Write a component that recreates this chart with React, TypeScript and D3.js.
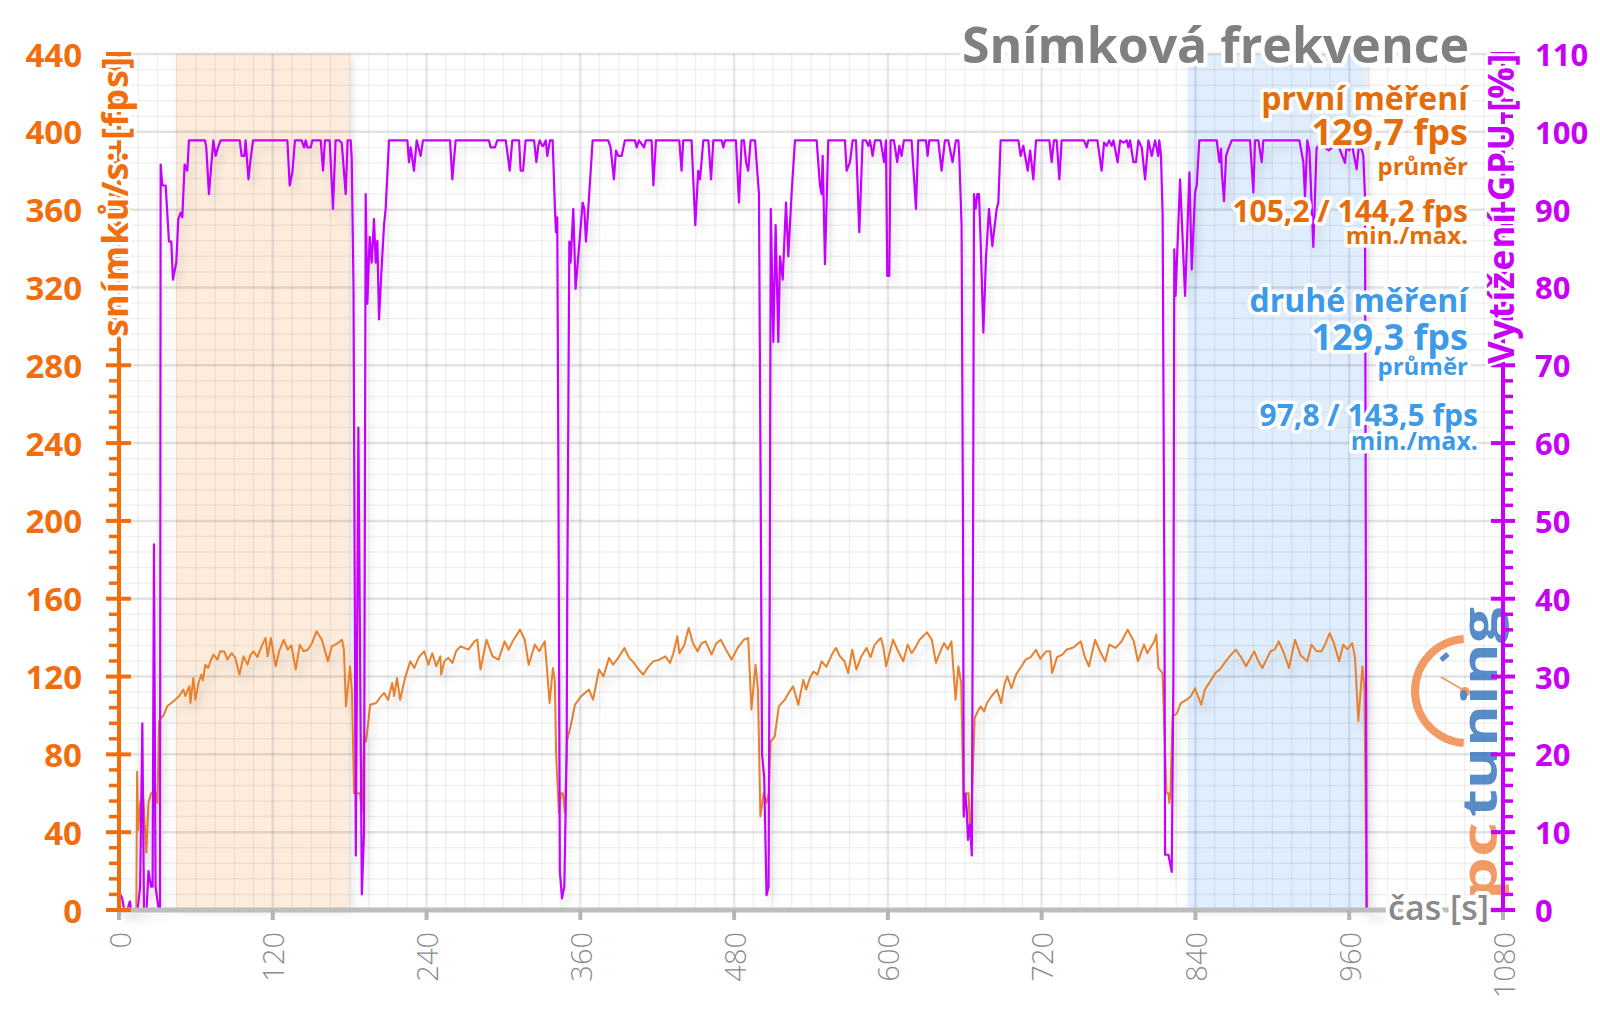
import { useEffect, useRef } from 'react';
import * as d3 from 'd3';

// time axis [s]
const timeTicks = [0, 120, 240, 360, 480, 600, 720, 840, 960, 1080];
// left axis [fps]
const fpsTicks = [0, 40, 80, 120, 160, 200, 240, 280, 320, 360, 400, 440];
// right axis [%]
const gpuTicks = [0, 10, 20, 30, 40, 50, 60, 70, 80, 90, 100, 110];

const firstRun = [44.5, 180];
const secondRun = [834, 972];

const chartTitle = 'Snímková frekvence';
const fpsAxisTitle = 'snímků/s: [fps]';
const gpuAxisTitle = 'Vytížení GPU [%]';
const timeAxisTitle = 'čas [s]';
const firstStats = ['první měření', '129,7 fps', 'průměr', '105,2 / 144,2 fps', 'min./max.'];
const secondStats = ['druhé měření', '129,3 fps', 'průměr', '97,8 / 143,5 fps', 'min./max.'];

// [time s, fps]
const fpsData: [number, number][] = [
  [0, 0], [13.5, 0], [14.1, 71], [15, 41], [16.5, 55], [18.8, 60], [20, 45], [21.3, 29.5], [23, 55], [25, 60], [28.8, 60], [30, 55],
  [31.3, 97], [33, 99], [34.5, 99.6], [36, 102], [37.6, 104.7], [40.8, 106.4], [43.9, 108.1], [47, 110], [50.2, 113.3], [51.7, 110],
  [54.9, 115], [55.8, 106.4], [58, 119.3], [59.6, 108.1], [62, 116.7], [64.3, 121], [65.5, 118], [67.4, 126.1], [69.6, 124.4],
  [71.5, 128], [73.7, 131.3], [76.8, 128.7], [79, 133], [82.1, 132.9], [84.6, 128.7], [87.8, 132], [90.5, 130], [94, 121],
  [97.2, 130.4], [100.3, 126.1], [102.5, 131], [105, 133], [108, 130], [111.3, 135.5], [114.4, 139.8], [116, 130.4], [118.5, 139.8],
  [122.3, 125.3], [125, 133], [128.5, 138.9], [131.7, 133.8], [134.5, 136], [137.9, 123.6], [141.1, 136.4], [144, 133], [147.3, 133.8],
  [150.5, 137], [154.2, 143.3], [158.3, 138.9], [163, 127.8], [166.1, 135.5], [170.8, 137.2], [174, 138.9], [175.5, 133.8],
  [177.1, 104.7], [180.3, 125.3], [181.8, 111.6], [183.4, 60], [185, 60], [188, 60], [189.5, 50], [191.2, 89.2], [192.8, 86.6],
  [196, 105.5], [200.6, 106.4], [203.5, 109], [206.9, 111.6], [210, 108], [213.2, 116.7], [214.7, 110], [216.9, 119.3], [219.4, 108.1],
  [223.2, 119.3], [227.3, 127.8], [230.5, 124.4], [234, 130], [238.2, 133], [241.4, 126.1], [244.5, 132], [247.6, 125.3], [250.8, 130.4],
  [251.4, 121], [254, 128], [257, 129.6], [260.2, 127], [263, 133], [266.5, 135.5], [272.7, 133.8], [277.4, 138.1], [279.6, 139],
  [282.1, 123.6], [286.8, 138.9], [291.5, 130.4], [296.2, 128.7], [300.9, 138.1], [304, 133.8], [307.2, 138.1], [312.9, 144.1],
  [316.6, 138.9], [319.7, 126.1], [324.5, 136.4], [328, 133], [332.3, 138.1], [336, 106.4], [338.6, 124.4], [340.1, 117.6], [341.1, 80],
  [343.3, 49.8], [344.8, 60], [346.4, 60], [348, 50], [349.5, 86.6], [352.7, 95.3], [355.8, 105.5], [360.5, 109.8], [366.8, 113.3],
  [369.9, 108.1], [374.6, 123.6], [378, 120], [382.4, 129.6], [385.6, 126.1], [390, 130], [394.4, 134.7], [398.1, 129.6], [402, 127],
  [405, 124], [409.1, 121], [413, 125], [416.9, 127.8], [421, 128.5], [426.3, 130.4], [430, 127], [432.6, 132], [435.7, 140.7],
  [437.3, 132], [441, 136], [444.5, 145], [448, 137], [451.4, 133], [454.5, 137], [457.7, 138.1], [462.4, 131.3], [466, 137],
  [469.6, 138.9], [473.5, 134], [478, 128.7], [483, 135], [487.5, 138.9], [491, 139.8], [493.5, 103], [496.7, 126.1], [498.6, 113.3],
  [500.5, 48.1], [503, 60], [505.3, 55], [507, 60], [508.5, 86.6], [511.7, 89.2], [514.9, 104.7], [519.6, 108.1], [523, 112], [526, 115],
  [530.1, 105.5], [534, 118.4], [536.2, 113.3], [539, 119], [541.9, 122.6], [545, 121], [548.3, 127.8], [552, 125], [556.3, 131.3],
  [559.4, 134.7], [562.6, 130.4], [566, 128], [569, 121.8], [572.2, 133.8], [575.4, 123.6], [579, 130], [583.3, 134.7], [586.5, 130],
  [589.7, 136.4], [594.5, 139.8], [596.5, 135], [598.6, 125.3], [604, 138.9], [608, 133], [612, 127.8], [615.4, 136.4], [618.5, 132],
  [621.6, 135], [624.7, 138.9], [630.5, 142.7], [634.3, 138.9], [637.5, 127], [641, 133], [643.8, 137.2], [646.7, 134], [649.6, 138.1],
  [652.8, 108.1], [655, 125.3], [657.2, 116.7], [659.1, 51.4], [661.4, 60], [663, 60], [664, 41.5], [665, 45], [667.7, 98.7], [670, 102],
  [672.5, 104.7], [675, 102], [677.3, 106.4], [681, 110], [685.2, 113.3], [688.4, 106.4], [691, 116], [693.2, 120.1], [696.4, 114],
  [700, 121], [704.3, 125.3], [707.5, 128.7], [711.5, 130], [715.5, 133.8], [719, 129], [720.3, 130.4], [723.5, 133], [726.6, 133],
  [728.2, 121.8], [732, 130], [736.2, 131.3], [739.4, 133.8], [745, 135], [750.5, 138.1], [753.7, 130], [756.9, 125.3], [761.7, 138.9],
  [765.5, 133], [769.6, 127.8], [772.8, 136.4], [777.6, 134.7], [782.4, 138.1], [787.1, 144.1], [791.9, 138.1], [795.1, 127.8],
  [799.9, 136.4], [802.4, 132], [807.9, 138.1], [809.5, 141.6], [811.1, 124.4], [814.3, 121.8], [817.4, 60], [819, 60], [819.6, 55],
  [820.5, 60], [822.2, 99.6], [825.5, 101], [828.6, 106.4], [833.3, 108.1], [836.5, 110], [839.7, 113.9], [844.5, 105.5], [847.4, 113.3],
  [851, 117], [855.6, 121.8], [859.5, 124], [863.6, 127.8], [867.5, 131], [871.5, 133.8], [875.5, 130], [879.5, 125.3], [885.9, 133],
  [889, 128], [892.2, 124.4], [898.6, 133], [902, 134], [905, 138.1], [909, 132], [913, 124.4], [917.7, 138.9], [922, 131], [927.3, 127.8],
  [930.5, 136.4], [934.5, 133], [938.4, 133], [941.5, 137], [944.8, 142.3], [948, 137.2], [952.1, 127.8], [955.3, 136.4], [958.5, 134],
  [962.3, 137.2], [964.5, 130], [967.1, 97], [970.3, 125.3], [971.9, 113.3], [973.5, 0], [985, 0],
];

// [time s, GPU load %]
const gpuData: [number, number][] = [
  [0, 0], [1, 2], [2.5, 1.5], [4, 0], [6.5, 0], [8.5, 1.1], [9.5, 0], [14.5, 0], [16.5, 3], [18.2, 24], [19.5, 0], [21.5, 0], [23, 5],
  [25, 3], [26.2, 3], [27.3, 47], [28.5, 3], [31, 0], [32, 0], [32.5, 95.8], [33.8, 93.1], [36.4, 93.1], [39, 85.9], [40.8, 85.9],
  [42.1, 81], [44.7, 83.2], [46.3, 88.8], [48.1, 89.6], [49.4, 89], [51.2, 95.8], [53.3, 95], [54.6, 98.9], [67.1, 98.9], [68.1, 98],
  [70.2, 92], [73.6, 98.9], [75.4, 96.9], [77.3, 98], [79.3, 98.9], [94.2, 98.9], [95.7, 96.9], [97.8, 96.9], [98.8, 98.9], [101, 93.9],
  [102.7, 96.5], [104.6, 98.9], [131.4, 98.9], [133.2, 93.1], [135.3, 94.8], [137.3, 98.9], [142.5, 98.9], [144.4, 98], [145.7, 98.9],
  [147, 98], [149.6, 98], [150.9, 98.9], [157.4, 98.9], [159.2, 95], [160.7, 98.9], [164.4, 98.9], [167, 90.1], [169, 98.9],
  [171.7, 98.9], [173.8, 98.6], [176.9, 92], [178.4, 98.9], [180.8, 98.9], [181.6, 96.5], [183, 80], [184.8, 7], [186.8, 62],
  [189.5, 2], [191.2, 10], [192.5, 92], [193.8, 77.9], [195.6, 86.5], [197.2, 83.2], [199, 88.8], [200.3, 83.2], [201.6, 86],
  [202.9, 75.9], [204.7, 81.8], [206.8, 88], [208.1, 90.1], [210.7, 98.9], [225, 98.9], [226.3, 96.1], [227.6, 98], [230.2, 95],
  [232.3, 98.9], [235.4, 96.9], [237.2, 98.9], [258.3, 98.9], [260.1, 93.9], [262.7, 98.9], [288.7, 98.9], [290, 98], [293.4, 98],
  [295.2, 98.9], [301.8, 98.9], [304.9, 95], [306.9, 98.9], [312.2, 98.9], [313.4, 95], [315.3, 95], [317.3, 98.9], [323.9, 98.9],
  [325.7, 96.1], [327.2, 98.2], [328.3, 98.9], [330.3, 98.2], [331.1, 98.2], [333, 98.9], [334.2, 96.9], [336.3, 98.9], [338.4, 98.9],
  [340.2, 90.1], [341, 87.1], [342, 89], [342.8, 60], [344, 5], [345.7, 1.5], [347.5, 3], [349.3, 20], [349.8, 40], [351.4, 85.9],
  [352.4, 83.2], [354.5, 90.1], [356.3, 79.8], [359.2, 85.6], [361.8, 90.9], [363.1, 90.1], [364.4, 85.9], [366.2, 90.1], [369.6, 98.9],
  [381.8, 98.9], [383.6, 98], [386.2, 93.9], [387.8, 97.6], [389.6, 96.9], [392.2, 96.9], [394.8, 98.9], [402.6, 98.9], [404, 98],
  [405.8, 98.9], [409.7, 98], [411.2, 98.9], [415.6, 98.9], [417, 93.1], [419, 98.9], [437.2, 98.9], [439, 95], [440.3, 98.9],
  [446.8, 98.9], [449.7, 88], [452, 95], [453.4, 93.9], [456, 98.9], [459.9, 98.9], [462, 93.9], [463.8, 98.9], [470.3, 98.9],
  [471.6, 98], [472.9, 98.9], [481.4, 98.9], [483.8, 90.9], [485.9, 98.9], [487.7, 98.9], [489.3, 96.1], [491, 95], [492.9, 98.9],
  [496.3, 98.9], [499.4, 92], [500.5, 60], [501.8, 20], [503.5, 17], [505.3, 1.9], [506.9, 3], [507.8, 40], [508.6, 90.1], [510.6, 73],
  [512.4, 88], [514.5, 73], [515.8, 84], [517.9, 81], [520.5, 90.9], [522.3, 84], [524.9, 92.2], [527.5, 98.9], [544.4, 98.9], [547, 93.1],
  [548.3, 92], [549.1, 96.9], [550.9, 83], [553.5, 98.9], [566.5, 98.9], [567.8, 95], [570.4, 96.1], [572.5, 98.9], [575.1, 98.9],
  [577.7, 87.1], [580.3, 98.9], [582.9, 98.9], [584.7, 98.2], [586, 98.9], [588.1, 96.9], [589.9, 98.9], [594.3, 98.9], [597, 96.1],
  [598.5, 98.9], [599.5, 81.5], [601.1, 81.5], [602.1, 98.9], [604.7, 98.9], [607.3, 96.1], [608.9, 98.2], [610.7, 96.9], [612.5, 98.9],
  [618.5, 98.9], [620.3, 94.3], [621.9, 90.1], [623.7, 98.9], [629.7, 98.9], [631, 96.9], [632.3, 98.9], [639.3, 98.9], [641.9, 95],
  [644.5, 98.9], [647.1, 98.9], [650.5, 96.1], [653.1, 98.9], [655, 98.9], [655.7, 97], [657.5, 88], [658.6, 50], [659.2, 12],
  [660.2, 15], [661.5, 13], [662.5, 9], [664, 11], [665.5, 7], [666.5, 50], [667.2, 92], [668.5, 90.1], [669.8, 92], [671.1, 92],
  [672.4, 85.8], [674.5, 74.2], [676.6, 84], [678.9, 90.1], [681.5, 85.3], [682.3, 86.5], [684.9, 90.1], [686.2, 90.9], [688, 98.9],
  [701.8, 98.9], [703.6, 96.9], [705.7, 98.2], [709.1, 95], [711, 97.6], [713.5, 93.9], [715.6, 98.9], [726, 98.9], [727.8, 96.1],
  [729.6, 98.9], [731.7, 98.9], [733.8, 93.9], [735.6, 98.9], [753, 98.9], [755.1, 98], [756.4, 98.9], [763.5, 98.9], [766.8, 95],
  [768.7, 98.6], [770.7, 98.2], [772.6, 98.9], [774.6, 98.2], [776, 98.9], [779.3, 96.1], [781.2, 98.9], [783.8, 98.6], [786.4, 98.9],
  [787.7, 98], [789, 98.9], [791.6, 96.1], [793.6, 96.1], [795.5, 98.9], [798.1, 98], [800.7, 93.9], [803.3, 98.9], [805.9, 96.9],
  [808.5, 98.9], [811, 96.9], [811.8, 98.9], [813.1, 97], [814.4, 89.3], [815.8, 40], [816.3, 7.1], [818.9, 7.1], [821.5, 4.9],
  [822.8, 30], [823.5, 84.9], [824.5, 78.9], [828, 93.9], [831.9, 78.9], [835.3, 94.8], [837.1, 82.3], [839.7, 92.2], [841, 93.1],
  [843, 98.9], [856.6, 98.9], [858.7, 96.1], [860, 97.8], [860.5, 95], [862.3, 91.1], [863.9, 96.9], [865.7, 97.8], [868.3, 98.9],
  [882.6, 98.9], [885.2, 92.2], [886.5, 98.9], [889.1, 98.9], [891.7, 96.1], [893, 98.9], [921.1, 98.9], [924.2, 96.1], [925.5, 91.6],
  [927.3, 98.9], [929, 97.5], [932, 85.2], [934.5, 97.8], [937, 98.9], [941, 98], [944, 97.6], [947, 98], [950, 98.9], [953, 97.6],
  [956.7, 96], [958, 98.2], [960, 97.6], [962, 98.4], [965.8, 95.2], [967.5, 98.2], [970, 97.6], [971, 96.9], [972.3, 91.7],
  [973.6, 0], [985, 0],
];

const ORANGE = '#f26d0c';
const ORANGE_TEXT = '#e46c0a';
const BLUE_TEXT = '#3c9ae8';
const PURPLE = '#c800f8';
const GRAY = '#808080';
const FONT = "'Open Sans', 'DejaVu Sans', sans-serif";

function drawChart(el: SVGSVGElement) {
  const svg = d3.select(el);
  svg.selectAll('*').remove();

  const left = 119, right = 1503, top = 54, bottom = 910;

  const x = d3.scaleLinear().domain([0, 1080]).range([left, right]);
  const yFps = d3.scaleLinear().domain([0, 440]).range([bottom, top]);
  const yGpu = d3.scaleLinear().domain([0, 110]).range([bottom, top]);

  const defs = svg.append('defs');
  const sh = defs.append('filter').attr('id', 'lineShadow')
    .attr('filterUnits', 'userSpaceOnUse')
    .attr('x', 0).attr('y', 0).attr('width', 1600).attr('height', 1009);
  sh.append('feGaussianBlur').attr('in', 'SourceAlpha').attr('stdDeviation', 4).attr('result', 'b');
  sh.append('feOffset').attr('in', 'b').attr('dx', 4).attr('dy', 8).attr('result', 'o');
  sh.append('feFlood').attr('flood-color', '#000').attr('flood-opacity', 0.12).attr('result', 'f');
  sh.append('feComposite').attr('in', 'f').attr('in2', 'o').attr('operator', 'in').attr('result', 's');
  const m = sh.append('feMerge');
  m.append('feMergeNode').attr('in', 's');
  m.append('feMergeNode').attr('in', 'SourceGraphic');

  const rs = defs.append('filter').attr('id', 'regionShadow')
    .attr('x', '-10%').attr('y', '-5%').attr('width', '120%').attr('height', '110%');
  rs.append('feDropShadow').attr('dx', 3).attr('dy', 2).attr('stdDeviation', 4)
    .attr('flood-color', '#000').attr('flood-opacity', 0.1);

  svg.append('rect').attr('width', 1600).attr('height', 1009).attr('fill', '#fff');

  // measured sections
  const regions = [
    { range: firstRun, fill: '#fdecdc' },
    { range: secondRun, fill: '#dfedfc' },
  ];
  svg.append('g').selectAll('rect').data(regions).enter().append('rect')
    .attr('x', d => x(d.range[0]))
    .attr('y', top)
    .attr('width', d => x(d.range[1]) - x(d.range[0]))
    .attr('height', bottom - top)
    .attr('fill', d => d.fill)
    .attr('filter', 'url(#regionShadow)');

  // grid
  const grid = svg.append('g');
  const minorX = d3.range(0, 1081, 15).filter(v => v % 120 !== 0);
  const minorY = d3.range(0, 441, 8).filter(v => v % 40 !== 0);
  grid.selectAll('.mx').data(minorX).enter().append('line')
    .attr('x1', d => x(d)).attr('x2', d => x(d)).attr('y1', top).attr('y2', bottom)
    .attr('stroke', 'rgba(0,0,0,0.055)').attr('stroke-width', 1.5);
  grid.selectAll('.my').data(minorY).enter().append('line')
    .attr('x1', left).attr('x2', right).attr('y1', d => yFps(d)).attr('y2', d => yFps(d))
    .attr('stroke', 'rgba(0,0,0,0.055)').attr('stroke-width', 1.5);
  grid.selectAll('.Mx').data(timeTicks.slice(1)).enter().append('line')
    .attr('x1', d => x(d)).attr('x2', d => x(d)).attr('y1', top).attr('y2', bottom)
    .attr('stroke', 'rgba(40,60,100,0.12)').attr('stroke-width', 2.5);
  grid.selectAll('.My').data(fpsTicks.slice(1)).enter().append('line')
    .attr('x1', left).attr('x2', right).attr('y1', d => yFps(d)).attr('y2', d => yFps(d))
    .attr('stroke', 'rgba(0,0,0,0.11)').attr('stroke-width', 2.5);

  // logo watermark
  const logo = svg.append('g').attr('opacity', 0.85);
  const arc = d3.arc()({ innerRadius: 48, outerRadius: 56, startAngle: Math.PI * 1.02, endAngle: Math.PI * 1.98 } as any);
  logo.append('path').attr('d', arc).attr('transform', 'translate(1467,691)').attr('fill', '#f08a4b');
  logo.append('line').attr('x1', 1441).attr('y1', 660).attr('x2', 1448).attr('y2', 654)
    .attr('stroke', '#3a78c0').attr('stroke-width', 5);
  logo.append('line').attr('x1', 1441).attr('y1', 677).attr('x2', 1465).attr('y2', 691)
    .attr('stroke', '#f08a4b').attr('stroke-width', 2);
  logo.append('circle').attr('cx', 1465).attr('cy', 692).attr('r', 5).attr('fill', '#f08a4b');
  logo.append('text').attr('transform', 'translate(1497,817) rotate(-90)')
    .attr('font-family', FONT).attr('font-weight', 700).attr('font-size', 48)
    .attr('textLength', 210).attr('lengthAdjust', 'spacingAndGlyphs')
    .attr('fill', '#3a78c0').text('tuning');
  logo.append('text').attr('transform', 'translate(1497,900) rotate(-90)')
    .attr('font-family', FONT).attr('font-weight', 700).attr('font-size', 48)
    .attr('textLength', 78).attr('lengthAdjust', 'spacingAndGlyphs')
    .attr('fill', '#f08a4b').text('pc');

  // series
  const fpsLine = d3.line<[number, number]>().x(d => x(d[0])).y(d => yFps(d[1]));
  const gpuLine = d3.line<[number, number]>().x(d => x(d[0])).y(d => yGpu(d[1]));
  svg.append('path').attr('d', fpsLine(fpsData)).attr('fill', 'none')
    .attr('stroke', '#e8812e').attr('stroke-width', 2).attr('stroke-linejoin', 'round')
    .attr('filter', 'url(#lineShadow)');
  svg.append('path').attr('d', gpuLine(gpuData)).attr('fill', 'none')
    .attr('stroke', '#c400ff').attr('stroke-width', 2.2).attr('stroke-linejoin', 'round')
    .attr('filter', 'url(#lineShadow)');

  // x axis
  const ax = svg.append('g');
  ax.append('line').attr('x1', left).attr('x2', right).attr('y1', bottom).attr('y2', bottom)
    .attr('stroke', '#bdbdbd').attr('stroke-width', 5);
  ax.selectAll('.t').data(timeTicks).enter().append('line')
    .attr('x1', d => x(d)).attr('x2', d => x(d)).attr('y1', bottom).attr('y2', bottom + 10)
    .attr('stroke', '#b5b5b5').attr('stroke-width', 4);
  ax.selectAll('text').data(timeTicks).enter().append('text')
    .attr('transform', d => `translate(${x(d)},${bottom + 22}) rotate(-90)`)
    .attr('text-anchor', 'end').attr('dominant-baseline', 'central')
    .attr('font-family', FONT).attr('font-weight', 300).attr('font-size', 29)
    .attr('fill', '#8c8c8c').text(d => d);

  const halo = (s: d3.Selection<SVGTextElement, any, any, any>, w: number) =>
    s.attr('stroke', '#fff').attr('stroke-width', w).attr('stroke-linejoin', 'round').attr('paint-order', 'stroke');

  // time axis title
  halo(svg.append('text').attr('x', 1489).attr('y', 920).attr('text-anchor', 'end')
    .attr('font-family', FONT).attr('font-weight', 600).attr('font-size', 34)
    .attr('fill', '#8a8a8a').text(timeAxisTitle), 8);

  // left axis
  const al = svg.append('g');
  al.append('line').attr('x1', left).attr('x2', left).attr('y1', bottom + 2).attr('y2', top - 2)
    .attr('stroke', ORANGE).attr('stroke-width', 4);
  al.selectAll('.mn').data(minorY).enter().append('line')
    .attr('x1', left - 10).attr('x2', left).attr('y1', d => yFps(d)).attr('y2', d => yFps(d))
    .attr('stroke', ORANGE).attr('stroke-width', 3.5);
  al.selectAll('.mj').data(fpsTicks).enter().append('line')
    .attr('x1', left - 13).attr('x2', left + 12).attr('y1', d => yFps(d)).attr('y2', d => yFps(d))
    .attr('stroke', ORANGE).attr('stroke-width', 4);
  al.selectAll('text').data(fpsTicks).enter().append('text')
    .attr('x', 82).attr('y', d => yFps(d)).attr('text-anchor', 'end').attr('dominant-baseline', 'central')
    .attr('font-family', FONT).attr('font-weight', 700).attr('font-size', 33)
    .attr('fill', ORANGE).text(d => d);
  halo(svg.append('text').attr('transform', `translate(128,337) rotate(-90)`)
    .attr('font-family', FONT).attr('font-weight', 700).attr('font-size', 36)
    .attr('textLength', 280).attr('lengthAdjust', 'spacing')
    .attr('fill', ORANGE).text(fpsAxisTitle), 6);

  // right axis
  const ar = svg.append('g');
  const minorG = d3.range(0, 111, 2).filter(v => v % 10 !== 0);
  ar.append('line').attr('x1', right).attr('x2', right).attr('y1', bottom + 2).attr('y2', top - 2)
    .attr('stroke', PURPLE).attr('stroke-width', 4);
  ar.selectAll('.mn').data(minorG).enter().append('line')
    .attr('x1', right).attr('x2', right + 10).attr('y1', d => yGpu(d)).attr('y2', d => yGpu(d))
    .attr('stroke', PURPLE).attr('stroke-width', 3.5);
  ar.selectAll('.mj').data(gpuTicks).enter().append('line')
    .attr('x1', right - 12).attr('x2', right + 12).attr('y1', d => yGpu(d)).attr('y2', d => yGpu(d))
    .attr('stroke', PURPLE).attr('stroke-width', 4);
  ar.selectAll('text').data(gpuTicks).enter().append('text')
    .attr('x', 1535).attr('y', d => yGpu(d)).attr('dominant-baseline', 'central')
    .attr('font-family', FONT).attr('font-weight', 700).attr('font-size', 31)
    .attr('fill', PURPLE).text(d => d);
  halo(svg.append('text').attr('transform', `translate(1514,364) rotate(-90)`)
    .attr('font-family', FONT).attr('font-weight', 700).attr('font-size', 35)
    .attr('textLength', 310).attr('lengthAdjust', 'spacing')
    .attr('fill', PURPLE).text(gpuAxisTitle), 6);

  // title
  halo(svg.append('text').attr('x', 1469).attr('y', 63).attr('text-anchor', 'end')
    .attr('font-family', FONT).attr('font-weight', 700).attr('font-size', 50)
    .attr('fill', GRAY).text(chartTitle), 8);

  // stats
  const firstLayout = [
    { x: 1468, y: 110, size: 32 }, { x: 1468, y: 145, size: 36 }, { x: 1468, y: 175, size: 24 },
    { x: 1468, y: 222, size: 30 }, { x: 1468, y: 244, size: 24 },
  ];
  const secondLayout = [
    { x: 1468, y: 312, size: 32 }, { x: 1468, y: 350, size: 36 }, { x: 1468, y: 375, size: 24 },
    { x: 1478, y: 426, size: 30 }, { x: 1478, y: 450, size: 25 },
  ];
  const stats = [
    ...firstStats.map((t, i) => ({ t, ...firstLayout[i], c: ORANGE_TEXT })),
    ...secondStats.map((t, i) => ({ t, ...secondLayout[i], c: BLUE_TEXT })),
  ];
  halo(svg.append('g').selectAll('text').data(stats).enter().append('text')
    .attr('x', d => d.x).attr('y', d => d.y).attr('text-anchor', 'end')
    .attr('font-family', FONT).attr('font-weight', 700).attr('font-size', d => d.size)
    .attr('fill', d => d.c).text(d => d.t) as any, 7);
}

function App() {
  const ref = useRef<SVGSVGElement>(null);

  useEffect(() => {
    if (ref.current) drawChart(ref.current);
  }, []);

  return (
    <svg ref={ref} width={1600} height={1009}
      style={{ position: 'absolute', left: 0, top: 0, display: 'block' }} />
  );
}

export default App;
